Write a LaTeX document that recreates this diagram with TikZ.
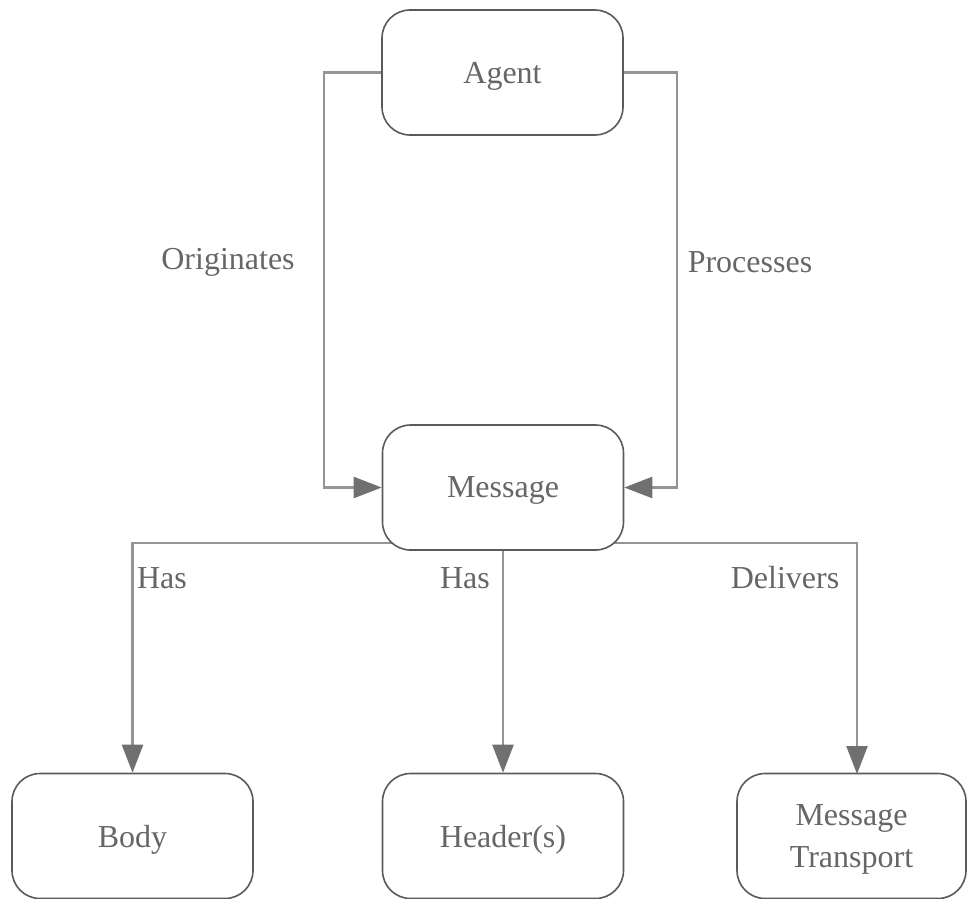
\documentclass[tikz,border=0pt]{standalone}
\usepackage{fontspec}
\setmainfont{Liberation Serif}
\usetikzlibrary{arrows.meta,backgrounds}
\definecolor{boxline}{HTML}{5A5A5A}
\definecolor{linkline}{HTML}{949494}
\definecolor{tipfill}{HTML}{707070}
\definecolor{txt}{HTML}{666666}
\begin{document}
\begin{tikzpicture}[x=1pt,y=-1pt,
  entity/.style={draw=boxline, line width=1.6pt, fill=white, rounded corners=28pt,
    minimum width=241pt, minimum height=125pt, inner sep=0pt, align=center,
    text depth=0pt, text=txt, font=\fontsize{32}{36}\selectfont},
  link/.style={draw=linkline, line width=2.4pt,
    -{Triangle[length=28pt,width=21pt,fill=tipfill,color=tipfill]}},
  lbl/.style={text=txt, font=\fontsize{32}{36}\selectfont, inner sep=0pt}]
\useasboundingbox (0,0) rectangle (968,898);

% entities
\node[entity] (agent) at (502.5,72.5) {Agent};
\node[entity] (msg) at (503,487.5) {Message};
\node[entity] (body) at (132.5,836) {Body};
\node[entity] (hdr) at (503,836) {Header(s)};
\node[entity, minimum width=229pt] (mt) at (851.5,836) {Message\\[6pt]Transport};

% routing points
\coordinate (lx) at (324,280);
\coordinate (rx) at (677,280);
\coordinate (hub) at (503,543);
\coordinate (mtin) at (857,774);

\begin{scope}[on background layer]
  \draw[link] (agent.west) -| (lx) |- (msg.west);
  \draw[link] (agent.east) -| (rx) |- (msg.east);
  \draw[link] (hub) -| (body.north);
  \draw[link] (hub) -| (mtin);
  \draw[link] (msg.south) -- (hdr.north);
\end{scope}

% relation labels
\node[lbl] (lorig) at (228,262) {Originates};
\node[lbl] (lproc) at (750,262) {Processes};
\node[lbl] (lhas1) at (162,578) {Has};
\node[lbl] (lhas2) at (465,578) {Has};
\node[lbl] (ldel) at (785,578) {Delivers};
\end{tikzpicture}
\end{document}
